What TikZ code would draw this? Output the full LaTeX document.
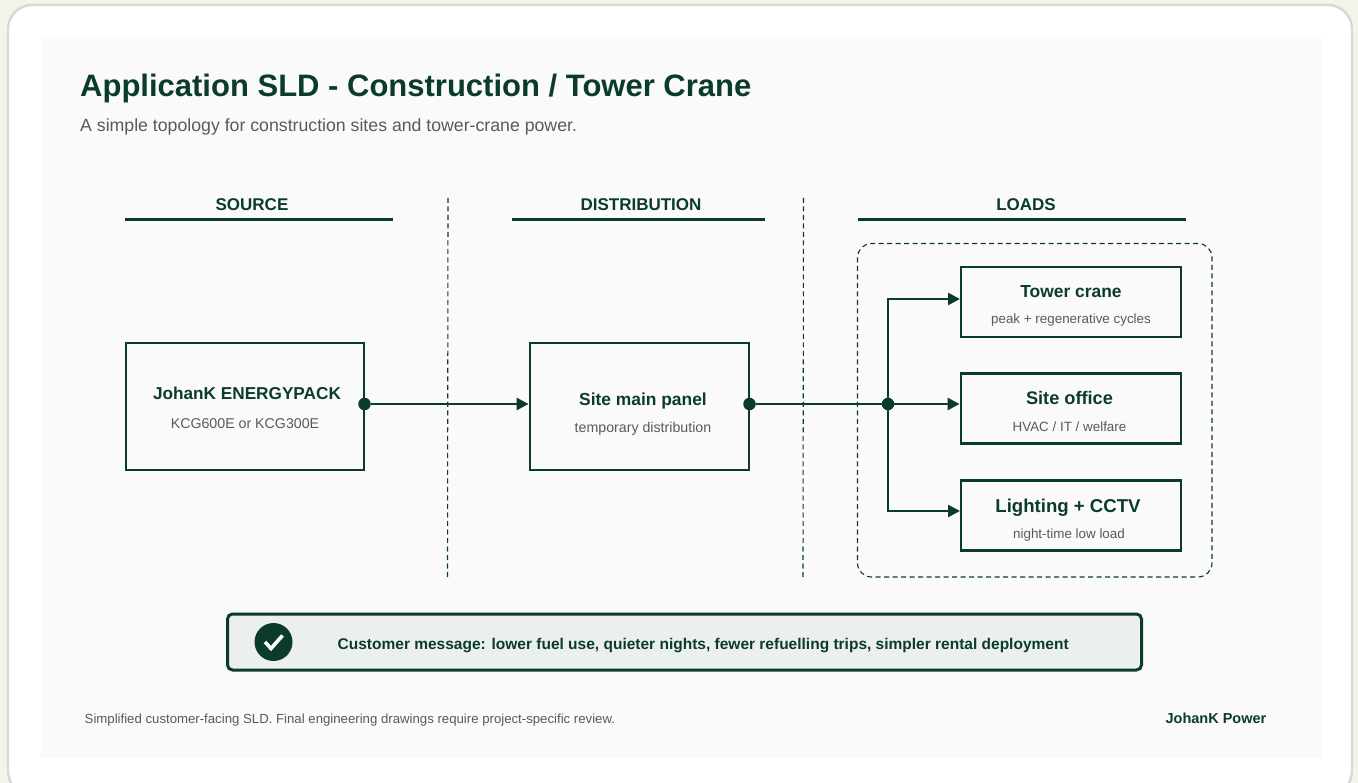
\documentclass[tikz,border=0pt]{standalone}
\usepackage{fontspec}
\setmainfont{Liberation Sans}
\usetikzlibrary{arrows.meta,positioning}
\definecolor{pine}{HTML}{0B3B2C}
\definecolor{slate}{HTML}{565C59}
\definecolor{cardedge}{HTML}{DADACB}
\definecolor{pagebg}{HTML}{F4F3EC}
\definecolor{panelbg}{HTML}{FAFAF9}
\definecolor{msgbg}{HTML}{EBF0EC}
\newcommand{\fsz}[1]{\fontsize{#1}{#1}\selectfont}
\tikzset{
	headlabel/.style={text=pine,font=\fsz{17}\bfseries,anchor=base,inner sep=0pt},
	headrule/.style={draw=pine,line width=2.6pt},
	sepline/.style={draw=pine,line width=1.1pt,dash pattern=on 5pt off 3.5pt},
	unitbox/.style={draw=pine,line width=2.8pt,inner sep=0pt,minimum width=#1},
	nametext/.style={text=pine,font=\fsz{#1}\bfseries,anchor=base,inner sep=0pt},
	notetext/.style={text=slate,font=\fsz{#1},anchor=base,inner sep=0pt},
	wire/.style={draw=pine,line width=2.6pt},
	feed/.style={wire,-{Triangle[length=12pt,width=12pt]}},
	jointdot/.style={circle,fill=pine,minimum size=12.5pt,inner sep=0pt},
	plain/.style={anchor=base west,text=slate,inner sep=0pt}
}
\begin{document}
\begin{tikzpicture}[x=1pt,y=-1pt]
	\useasboundingbox (0,0) rectangle (1358,783);
	\fill [pagebg] (0,0) rectangle (1358,783);
	\draw [cardedge,line width=2.4pt,fill=white,rounded corners=24pt] (8,5) rectangle (1352,795);
	\fill [panelbg] (41,37) rectangle (1322,758);
	% headings
	\node (title) [anchor=base west,inner sep=0pt,text=pine,font=\fsz{31}\bfseries] at (80,96.5) {Application SLD - Construction / Tower Crane};
	\node (subtitle) [plain,font=\fsz{17.7}] at (80,131.5) {A simple topology for construction sites and tower-crane power.};
	\node (srchead) [headlabel] at (252,210.5) {SOURCE};
	\node (disthead) [headlabel] at (641,210.5) {DISTRIBUTION};
	\node (loadhead) [headlabel] at (1026,210.5) {LOADS};
	\coordinate (srcrulea) at (125,219.5);
	\coordinate (srcruleb) at (393,219.5);
	\coordinate (distrulea) at (512,219.5);
	\coordinate (distruleb) at (765,219.5);
	\coordinate (loadrulea) at (858,219.5);
	\coordinate (loadruleb) at (1186,219.5);
	\draw [headrule] (srcrulea) -- (srcruleb);
	\draw [headrule] (distrulea) -- (distruleb);
	\draw [headrule] (loadrulea) -- (loadruleb);
	% column separators
	\coordinate (sepatop) at (448,198);
	\coordinate (sepabot) at (447.5,578);
	\coordinate (sepbtop) at (803.5,198);
	\coordinate (sepbbot) at (803,578);
	\draw [sepline] (sepatop) -- (sepabot);
	\draw [sepline] (sepbtop) -- (sepbbot);
	\draw [sepline,rounded corners=14pt] (857.5,243.5) rectangle (1212,577);
	% boxes
	\node (pack) [unitbox=238pt,minimum height=127pt] at (245,406.5) {};
	\node (panel) [unitbox=219pt,minimum height=127pt] at (639.5,406.5) {};
	\node (crane) [unitbox=220pt,minimum height=70pt] at (1071,302) {};
	\node (office) [unitbox=220pt,minimum height=70pt] at (1071,408.5) {};
	\node (lights) [unitbox=220pt,minimum height=70pt] at (1071,515.5) {};
	\node (packname) [nametext=17.2] at (247,400) {JohanK ENERGYPACK};
	\node (packnote) [notetext=14.2] at (245,429) {KCG600E or KCG300E};
	\node (panelname) [nametext=17.4] at (643,406) {Site main panel};
	\node (panelnote) [notetext=14.2] at (643,433) {temporary distribution};
	\node (cranename) [nametext=17.4] at (1071,298) {Tower crane};
	\node (cranenote) [notetext=13.4] at (1071,324) {peak + regenerative cycles};
	\node (officename) [nametext=18.2] at (1069.5,405) {Site office};
	\node (officenote) [notetext=13.4] at (1069.5,432) {HVAC / IT / welfare};
	\node (lightsname) [nametext=18.6] at (1068,512) {Lighting + CCTV};
	\node (lightsnote) [notetext=13.4] at (1069,538) {night-time low load};
	% wiring
	\node (packdot) [jointdot] at (364.5,404) {};
	\node (paneldot) [jointdot] at (749.5,404) {};
	\node (branchdot) [jointdot] at (888,404) {};
	\coordinate (panelin) at (panel.west |- packdot);
	\coordinate (officein) at (office.west |- branchdot);
	\coordinate (cranein) at (960,299);
	\coordinate (lightsin) at (960,511);
	\draw [feed] (packdot) -- (panelin);
	\draw [wire] (paneldot) -- (branchdot);
	\draw [feed] (branchdot) -- (officein);
	\draw [feed] (branchdot) |- (cranein);
	\draw [feed] (branchdot) |- (lightsin);
	% message strip
	\node (message) [draw=pine,line width=3pt,fill=msgbg,rounded corners=5pt,minimum width=914pt,minimum height=56pt,inner sep=0pt] at (684.5,642) {};
	\node (checkmark) [circle,fill=pine,minimum size=38pt,inner sep=0pt] at (273.5,642) {};
	\draw [white,line width=3.6pt] (265,642) -- (271,648.5) -- (282.5,635.5);
	\node (msgtext) [anchor=base west,inner sep=0pt,text=pine,font=\fsz{15.5}\bfseries] at (337.5,649) {Customer message: lower fuel use, quieter nights, fewer refuelling trips, simpler rental deployment};
	% footer
	\node (note) [plain,font=\fsz{13.2}] at (84.5,723) {Simplified customer-facing SLD. Final engineering drawings require project-specific review.};
	\node (brand) [anchor=base east,inner sep=0pt,text=pine,font=\fsz{14.5}\bfseries] at (1266.5,723.5) {JohanK Power};
\end{tikzpicture}
\end{document}
